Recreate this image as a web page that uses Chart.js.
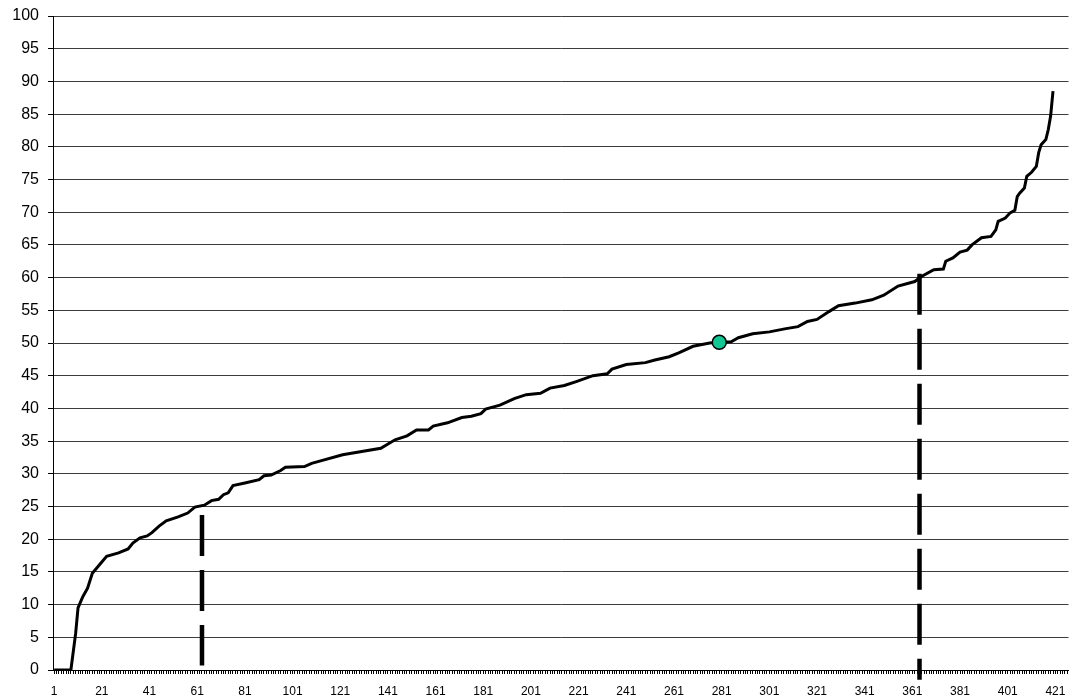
<!DOCTYPE html>
<html>
<head>
<meta charset="utf-8">
<script src="https://cdn.jsdelivr.net/npm/chart.js@4/dist/chart.umd.min.js"></script>
<style>
  html, body { margin: 0; padding: 0; background: #fff; }
  canvas { display: block; }
</style>
</head>
<body>
<canvas id="grafico" width="1077" height="698"></canvas>
<script>
// ===============================
// DATOS
// ===============================

// posicion del caso (1..426) y valor de la curva ordenada
const casos = [1, 8, 10, 11, 13, 15, 17, 20, 23, 28, 32, 34, 37, 40, 42, 45, 48, 53, 57, 60,
  64, 67, 70, 72, 74, 76, 81, 87, 89, 92, 96, 98, 106, 109, 112, 122, 130, 138, 144, 149,
  153, 158, 160, 166, 172, 176, 180, 182, 188, 194, 199, 205, 209, 215, 220, 227, 233, 235,
  241, 249, 253, 259, 263, 269, 276, 280, 285, 288, 294, 301, 308, 313, 317, 321, 326, 330,
  337, 344, 349, 355, 362, 365, 370, 374, 375, 378, 381, 384, 386, 390, 394, 396, 397, 400,
  402, 404, 405, 406, 408, 409, 411, 413, 414, 415, 417, 418, 419, 420];

const valores = [0, 0, 5.6, 9.5, 11.2, 12.5, 14.8, 16.1, 17.4, 17.9, 18.5, 19.4, 20.2, 20.5, 21, 22, 22.8, 23.4, 24, 24.9,
  25.2, 25.9, 26.1, 26.8, 27.1, 28.2, 28.6, 29.1, 29.7, 29.8, 30.5, 31, 31.1, 31.6, 31.9, 32.9, 33.4, 33.9, 35.2, 35.8,
  36.7, 36.7, 37.3, 37.8, 38.6, 38.8, 39.2, 39.9, 40.5, 41.5, 42.1, 42.3, 43.1, 43.5, 44.1, 45, 45.3, 46,
  46.7, 47, 47.4, 47.9, 48.5, 49.5, 50, 50.1, 50.2, 50.8, 51.4, 51.7, 52.2, 52.5, 53.3, 53.6, 54.8, 55.7,
  56.1, 56.6, 57.3, 58.7, 59.4, 60.2, 61.2, 61.3, 62.5, 63, 63.9, 64.2, 65, 66.1, 66.3, 67.3, 68.6, 69.1,
  69.9, 70.3, 72.4, 72.9, 73.7, 75.5, 76.1, 77, 79.1, 80.3, 81.1, 82.6, 84.7, 88.5];

// punto destacado (mediana)
const puntoX = [280];
const puntoY = [50.1];

// lineas verticales discontinuas
const corteIzqX = [63, 63];
const corteIzqY = [23.7, 0.7];
const corteDerX = [364, 364];
const corteDerY = [60.6, -1.5];

// etiquetas del eje X
const etiquetasX = [1, 21, 41, 61, 81, 101, 121, 141, 161, 181, 201, 221, 241, 261, 281, 301, 321, 341, 361, 381, 401, 421];
const totalCasos = 426;

// ===============================
// UTILIDAD
// ===============================

function aPuntos(xs, ys) {
  return xs.map(function (x, k) {
    return { x: x, y: ys[k] };
  });
}

// ===============================
// GRAFICA
// ===============================

const ctx = document.getElementById("grafico").getContext("2d");

new Chart(ctx, {
  type: "line",
  data: {
    datasets: [
      {
        data: aPuntos(puntoX, puntoY),
        showLine: false,
        pointRadius: 7,
        pointBackgroundColor: "#12c794",
        pointBorderColor: "#000",
        pointBorderWidth: 1.5,
        order: 0
      },
      {
        data: aPuntos(casos, valores),
        borderColor: "#000",
        borderWidth: 3,
        pointRadius: 0,
        tension: 0,
        order: 2
      },
      {
        data: aPuntos(corteIzqX, corteIzqY),
        borderColor: "#000",
        borderWidth: 4.5,
        borderDash: [41, 14],
        borderCapStyle: "butt",
        pointRadius: 0,
        clip: false,
        order: 1
      },
      {
        data: aPuntos(corteDerX, corteDerY),
        borderColor: "#000",
        borderWidth: 4.5,
        borderDash: [41, 14],
        borderCapStyle: "butt",
        pointRadius: 0,
        clip: false,
        order: 1
      }
    ]
  },
  options: {
    responsive: false,
    animation: false,
    devicePixelRatio: 1,
    layout: { padding: { top: 16, right: 2, left: 0, bottom: 0 } },
    plugins: {
      legend: { display: false },
      tooltip: { enabled: false }
    },
    scales: {
      x: {
        type: "linear",
        min: 0.5,
        max: totalCasos + 0.5,
        afterFit: function (escala) {
          escala.height = 28;
          escala.paddingLeft = 0;
          escala.paddingRight = 0;
        },
        afterBuildTicks: function (escala) {
          const marcas = [];
          for (let i = 1; i <= totalCasos; i++) marcas.push({ value: i });
          escala.ticks = marcas;
        },
        border: { display: true, color: "#000", width: 1 },
        grid: {
          drawOnChartArea: false,
          drawTicks: true,
          tickLength: 4,
          tickColor: "#000"
        },
        ticks: {
          autoSkip: false,
          maxRotation: 0,
          minRotation: 0,
          padding: 10,
          color: "#000",
          font: { family: "'Liberation Sans', Arial, sans-serif", size: 12 },
          callback: function (valor) {
            return etiquetasX.indexOf(valor) >= 0 ? String(valor) : "";
          }
        }
      },
      y: {
        min: 0,
        max: 100,
        afterFit: function (escala) {
          escala.width = 53;
          escala.paddingTop = 0;
          escala.paddingBottom = 0;
        },
        border: { display: true, color: "#000", width: 1 },
        grid: {
          color: "#3c3c3c",
          lineWidth: 1,
          drawTicks: true,
          tickLength: 5,
          tickColor: "#000"
        },
        ticks: {
          stepSize: 5,
          padding: 9,
          color: "#000",
          font: { family: "'Liberation Sans', Arial, sans-serif", size: 16 }
        }
      }
    }
  }
});
</script>
</body>
</html>
